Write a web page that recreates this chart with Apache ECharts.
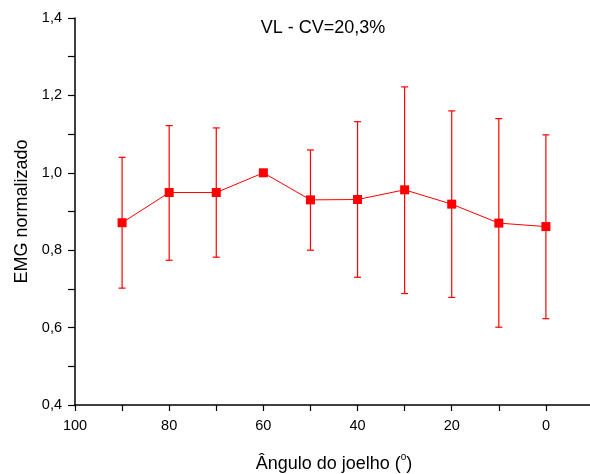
<!DOCTYPE html>
<html><head><meta charset="utf-8">
<script src="https://cdn.jsdelivr.net/npm/echarts@6/dist/echarts.min.js"></script>
<style>html,body{margin:0;padding:0;background:#fff}#c{width:590px;height:474px}</style>
</head><body><div id="c"></div>
<script>
const angles = [90, 80, 70, 60, 50, 40, 30, 20, 10, 0];
const means  = [0.871, 0.949, 0.949, 1.000, 0.930, 0.931, 0.956, 0.919, 0.870, 0.861];
const upper  = [1.040, 1.122, 1.116, 1.000, 1.059, 1.132, 1.222, 1.160, 1.140, 1.098];
const lower  = [0.702, 0.774, 0.782, 1.000, 0.800, 0.730, 0.688, 0.678, 0.601, 0.623];
const title = 'VL - CV=20,3%';
const xName = 'Ângulo do joelho (';
const yName = 'EMG normalizado';

const chart = echarts.init(document.getElementById('c'));
const red = '#ff0000';
const font = 'Liberation Sans, Arial, sans-serif';
chart.setOption({
  animation: false,
  backgroundColor: '#fff',
  title: { text: title, left: 318, top: 14, textAlign: 'center',
    textStyle: { fontFamily: font, fontSize: 18, fontWeight: 'normal', color: '#000' } },
  grid: { left: 75, right: -3, top: 18, bottom: 69, outerBoundsMode: 'none', containLabel: false },
  xAxis: {
    type: 'value', inverse: true, min: -10, max: 100, interval: 10,
    splitLine: { show: false },
    axisLine: { onZero: false, lineStyle: { color: '#000', width: 1.5 } },
    axisTick: { inside: false, length: 6, lineStyle: { color: '#000', width: 1.2 } },
    axisLabel: { fontFamily: font, fontSize: 14.5, color: '#000', margin: 13,
      formatter: v => (v >= 0 && v % 20 === 0) ? String(v) : '' },
    name: '{n|' + xName + '}{s|o}{n|)}', nameLocation: 'middle', nameGap: 47,
    nameTextStyle: { rich: {
      n: { fontFamily: font, fontSize: 18, color: '#000' },
      s: { fontFamily: font, fontSize: 10, color: '#000', padding: [0, 0, 15, 0] } } }
  },
  yAxis: {
    type: 'value', min: 0.4, max: 1.4, interval: 0.1,
    splitLine: { show: false },
    axisLine: { onZero: false, lineStyle: { color: '#000', width: 1.5 } },
    axisTick: { inside: false, length: 7, lineStyle: { color: '#000', width: 1.2 } },
    axisLabel: { fontFamily: font, fontSize: 14.5, color: '#000', margin: 13,
      formatter: v => { const k = Math.round(v * 10); return k % 2 === 0 ? (k / 10).toFixed(1).replace('.', ',') : ''; } },
    name: yName, nameLocation: 'middle', nameGap: 43,
    nameTextStyle: { fontFamily: font, fontSize: 18, color: '#000' }
  },
  series: [
    {
      type: 'custom',
      data: angles.map((a, i) => [a, lower[i], upper[i]]),
      renderItem: (params, api) => {
        const x = api.value(0);
        const lo = api.coord([x, api.value(1)]);
        const hi = api.coord([x, api.value(2)]);
        if (Math.abs(hi[1] - lo[1]) < 1) return null;
        const w = 3.5;
        const st = { stroke: red, lineWidth: 1.2 };
        return { type: 'group', children: [
          { type: 'line', shape: { x1: lo[0], y1: lo[1], x2: hi[0], y2: hi[1] }, style: st },
          { type: 'line', shape: { x1: lo[0] - w, y1: lo[1], x2: lo[0] + w, y2: lo[1] }, style: st },
          { type: 'line', shape: { x1: hi[0] - w, y1: hi[1], x2: hi[0] + w, y2: hi[1] }, style: st }
        ] };
      },
      z: 1
    },
    {
      type: 'line',
      data: angles.map((a, i) => [a, means[i]]),
      symbol: 'rect', symbolSize: 9,
      itemStyle: { color: red },
      lineStyle: { color: red, width: 1 },
      z: 2
    }
  ]
});
</script></body></html>
